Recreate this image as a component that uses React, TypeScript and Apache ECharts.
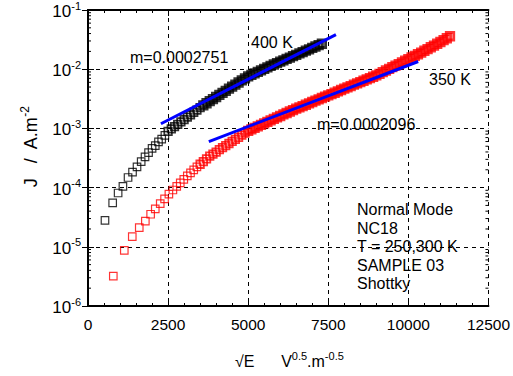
import React, { useEffect, useRef } from 'react';
import * as echarts from 'echarts';

// √E values (V^0.5.m^-0.5) and current density J (A.m^-2)
const black400X = [530, 770, 940, 1090, 1250, 1390, 1530, 1660, 1780, 1890, 2000, 2100, 2200, 2300, 2400,
  2500, 2600, 2700, 2800, 2900, 3000, 3100, 3200, 3300, 3400, 3500, 3600, 3700, 3800, 3900, 4000, 4100,
  4200, 4300, 4400, 4500, 4600, 4700, 4800, 4900, 5000, 5100, 5200, 5300, 5400, 5500, 5600, 5700, 5800,
  5900, 6000, 6100, 6200, 6300, 6400, 6500, 6600, 6700, 6800, 6900, 7000, 7100, 7200, 7300];
const black400J = [2.8e-5, 5.5e-5, 8.1e-5, 1.05e-4, 1.48e-4, 1.82e-4, 2.24e-4, 2.75e-4, 3.3e-4, 3.9e-4,
  4.6e-4, 5.1e-4, 5.9e-4, 6.6e-4, 7.6e-4, 8.9e-4, 9.8e-4, 1.07e-3, 1.17e-3, 1.29e-3, 1.41e-3, 1.55e-3,
  1.70e-3, 1.86e-3, 2.04e-3, 2.24e-3, 2.45e-3, 2.66e-3, 2.88e-3, 3.13e-3, 3.39e-3, 3.67e-3, 3.98e-3,
  4.32e-3, 4.68e-3, 5.07e-3, 5.5e-3, 5.96e-3, 6.46e-3, 7.0e-3, 7.59e-3, 8.04e-3, 8.51e-3, 9.02e-3,
  9.55e-3, 1.01e-2, 1.07e-2, 1.135e-2, 1.2e-2, 1.27e-2, 1.34e-2, 1.41e-2, 1.49e-2, 1.57e-2, 1.66e-2,
  1.75e-2, 1.85e-2, 1.95e-2, 2.06e-2, 2.17e-2, 2.29e-2, 2.42e-2, 2.55e-2, 2.69e-2];

const red350X = [790, 1133, 1382, 1600, 1790, 1955, 2100, 2255, 2390, 2525, 2650, 2770, 2880, 2990, 3100,
  3200, 3300, 3400, 3500, 3600, 3700, 3800, 3900, 4000, 4100, 4200, 4300, 4400, 4500, 4600, 4700, 4800,
  4900, 5000, 5100, 5200, 5300, 5400, 5500, 5600, 5700, 5800, 5900, 6000, 6100, 6200, 6300, 6400, 6500,
  6600, 6700, 6800, 6900, 7000, 7100, 7200, 7300, 7400, 7500, 7600, 7700, 7800, 7900, 8000, 8100, 8200,
  8300, 8400, 8500, 8600, 8700, 8800, 8900, 9000, 9100, 9200, 9300, 9400, 9500, 9600, 9700, 9800, 9900,
  10000, 10100, 10200, 10300, 10400, 10500, 10600, 10700, 10800, 10900, 11000, 11100, 11200, 11300];
const red350J = [3.2e-6, 8.7e-6, 1.48e-5, 2.1e-5, 2.72e-5, 3.55e-5, 4.37e-5, 5.37e-5, 6.46e-5, 7.76e-5,
  9.1e-5, 1.05e-4, 1.2e-4, 1.38e-4, 1.58e-4, 1.78e-4, 2.0e-4, 2.24e-4, 2.48e-4, 2.75e-4, 3.05e-4, 3.39e-4,
  3.67e-4, 3.98e-4, 4.37e-4, 4.73e-4, 5.13e-4, 5.56e-4, 6.03e-4, 6.53e-4, 7.08e-4, 7.67e-4, 8.32e-4,
  9.1e-4, 9.6e-4, 1.02e-3, 1.08e-3, 1.15e-3, 1.22e-3, 1.29e-3, 1.37e-3, 1.45e-3, 1.53e-3, 1.62e-3,
  1.72e-3, 1.82e-3, 1.93e-3, 2.04e-3, 2.15e-3, 2.26e-3, 2.38e-3, 2.51e-3, 2.65e-3, 2.79e-3, 2.94e-3,
  3.09e-3, 3.26e-3, 3.43e-3, 3.61e-3, 3.8e-3, 4.0e-3, 4.22e-3, 4.45e-3, 4.68e-3, 4.93e-3, 5.19e-3,
  5.47e-3, 5.75e-3, 6.06e-3, 6.38e-3, 6.72e-3, 7.08e-3, 7.46e-3, 7.85e-3, 8.35e-3, 8.9e-3, 9.5e-3,
  1.01e-2, 1.08e-2, 1.15e-2, 1.22e-2, 1.30e-2, 1.39e-2, 1.48e-2, 1.58e-2, 1.68e-2, 1.79e-2, 1.91e-2,
  2.05e-2, 2.19e-2, 2.35e-2, 2.51e-2, 2.69e-2, 2.88e-2, 3.09e-2, 3.33e-2, 3.6e-2];

// linear fits (blue lines), endpoints
const fit400X = [2276, 7740];
const fit400J = [1.2e-3, 3.85e-2];
const fit350X = [3772, 10307];
const fit350J = [6.0e-4, 1.35e-2];

const xTickValues = [0, 2500, 5000, 7500, 10000, 12500];
const yDecades = [1e-6, 1e-5, 1e-4, 1e-3, 1e-2];
const yMinorMultipliers = [2, 3, 4, 5, 6, 7, 8, 9];

const annotationLines = ['Normal Mode', 'NC18', 'T = 250,300 K', 'SAMPLE 03', 'Shottky'];

const FONT = 'Liberation Sans, Arial, sans-serif';

export default function App() {
  const ref = useRef<HTMLDivElement>(null);
  useEffect(() => {
    if (!ref.current) return;
    const chart = echarts.init(ref.current, null, { renderer: 'svg' });
    const minorVals: number[][] = [];
    yDecades.forEach((d) => yMinorMultipliers.forEach((m) => minorVals.push([0, d * m])));
    const xMin = xTickValues[0];
    const xMax = xTickValues[xTickValues.length - 1];
    const textStyle = (x: number, y: number, text: string) => ({
      type: 'text', x, y, silent: true,
      style: { text, fill: '#000', font: `16px ${FONT}`, verticalAlign: 'middle', align: 'left' },
    });
    // where the markers crowd together they form a solid band: thicker outline there
    const points = (xs: number[], ys: number[], midFrom: number, denseFrom: number) =>
      xs.map((x, i) => ({
        value: [x, ys[i]],
        itemStyle: { borderWidth: x >= denseFrom ? 2.8 : x >= midFrom ? 1.8 : 1.2 },
      }));
    const option: any = {
      animation: false,
      backgroundColor: '#fff',
      textStyle: { fontFamily: FONT },
      grid: { left: 88, right: 24, top: 10, bottom: 70 },
      xAxis: [
        {
          type: 'value', min: xMin, max: xMax, interval: 2500, position: 'bottom',
          axisLine: { show: true, lineStyle: { color: '#000', width: 2 } },
          axisTick: { show: true, inside: true, length: 6, lineStyle: { color: '#000' } },
          minorTick: { show: true, splitNumber: 5, length: 3, lineStyle: { color: '#000' } },
          splitLine: { show: true, lineStyle: { color: '#000', type: [4, 4], width: 1 } },
          axisLabel: { color: '#000', fontSize: 15.5, margin: 10, fontFamily: FONT, formatter: (v: number) => String(v) },
        },
        {
          type: 'value', min: xMin, max: xMax, interval: 2500, position: 'top',
          axisLine: { show: true, lineStyle: { color: '#000', width: 2 } },
          axisTick: { show: true, inside: true, length: 6, lineStyle: { color: '#000' } },
          minorTick: { show: true, splitNumber: 5, length: 3, lineStyle: { color: '#000' } },
          splitLine: { show: false },
          axisLabel: { show: false },
        },
      ],
      yAxis: [
        {
          type: 'log', logBase: 10, min: 1e-6, max: 1e-1, position: 'left',
          axisLine: { show: true, lineStyle: { color: '#000', width: 2 } },
          axisTick: { show: true, inside: true, length: 6, lineStyle: { color: '#000' } },
          splitLine: { show: true, lineStyle: { color: '#000', type: [4, 4], width: 1 } },
          axisLabel: {
            color: '#000', margin: 7, showMaxLabel: true, showMinLabel: true,
            formatter: (v: number) => `{b|10}{s|${Math.round(Math.log10(v))}}`,
            rich: {
              b: { fontSize: 17, fontFamily: FONT, color: '#000', verticalAlign: 'bottom' },
              s: { fontSize: 11, fontFamily: FONT, color: '#000', verticalAlign: 'bottom', padding: [0, 0, 9, 0] },
            },
          },
        },
        {
          type: 'log', logBase: 10, min: 1e-6, max: 1e-1, position: 'right',
          axisLine: { show: true, lineStyle: { color: '#000', width: 2 } },
          axisTick: { show: true, inside: true, length: 6, lineStyle: { color: '#000' } },
          splitLine: { show: false },
          axisLabel: { show: false },
        },
      ],
      series: [
        {
          type: 'custom', name: 'minorTicks', silent: true, clip: false, z: 3,
          data: minorVals,
          renderItem: (params: any, api: any) => {
            const v = api.value(1);
            const pl = api.coord([xMin, v]);
            const pr = api.coord([xMax, v]);
            return {
              type: 'group',
              children: [
                { type: 'line', shape: { x1: pl[0], y1: pl[1], x2: pl[0] + 3, y2: pl[1] }, style: { stroke: '#000', lineWidth: 1 } },
                { type: 'line', shape: { x1: pr[0] - 3, y1: pr[1], x2: pr[0], y2: pr[1] }, style: { stroke: '#000', lineWidth: 1 } },
              ],
            };
          },
        },
        {
          type: 'scatter', name: '400 K', symbol: 'rect', symbolSize: 7.5, z: 4,
          data: points(black400X, black400J, 2500, 3600),
          itemStyle: { color: 'rgba(0,0,0,0)', borderColor: '#000', borderWidth: 1.2 },
        },
        {
          type: 'scatter', name: '350 K', symbol: 'rect', symbolSize: 7.5, z: 4,
          data: points(red350X, red350J, 3500, 5000),
          itemStyle: { color: 'rgba(0,0,0,0)', borderColor: '#ff0000', borderWidth: 1.2 },
        },
        {
          type: 'line', name: 'fit400', symbol: 'none', z: 5,
          data: fit400X.map((x, i) => [x, fit400J[i]]),
          lineStyle: { color: '#0000ff', width: 3 },
        },
        {
          type: 'line', name: 'fit350', symbol: 'none', z: 5,
          data: fit350X.map((x, i) => [x, fit350J[i]]),
          lineStyle: { color: '#0000ff', width: 3 },
        },
      ],
      graphic: [
        textStyle(130, 57, 'm=0.0002751'),
        textStyle(251, 42, '400 K'),
        textStyle(429, 79, '350 K'),
        textStyle(317, 124, 'm=0.0002096'),
        ...annotationLines.map((t, i) => textStyle(357, 209.5 + i * 18.5, t)),
        {
          type: 'text', x: 29, y: 147, rotation: Math.PI / 2, silent: true,
          style: {
            text: '{b|J   /  A.m}{s|-2}', align: 'center', verticalAlign: 'middle',
            rich: {
              b: { fontSize: 18, fontFamily: FONT, fill: '#000', verticalAlign: 'bottom' },
              s: { fontSize: 12, fontFamily: FONT, fill: '#000', verticalAlign: 'bottom', padding: [0, 0, 9, 0] },
            },
          },
        },
        {
          type: 'text', x: 235, y: 360, silent: true,
          style: {
            text: '{b|√E      V}{s|0.5}{b|.m}{s|-0.5}', align: 'left', verticalAlign: 'middle',
            rich: {
              b: { fontSize: 16, fontFamily: FONT, fill: '#000', verticalAlign: 'bottom' },
              s: { fontSize: 11, fontFamily: FONT, fill: '#000', verticalAlign: 'bottom', padding: [0, 0, 8, 0] },
            },
          },
        },
      ],
    };
    chart.setOption(option);
    return () => chart.dispose();
  }, []);
  return <div ref={ref} style={{ position: 'fixed', left: 0, top: 0, width: 513, height: 376, background: '#fff' }} />;
}
